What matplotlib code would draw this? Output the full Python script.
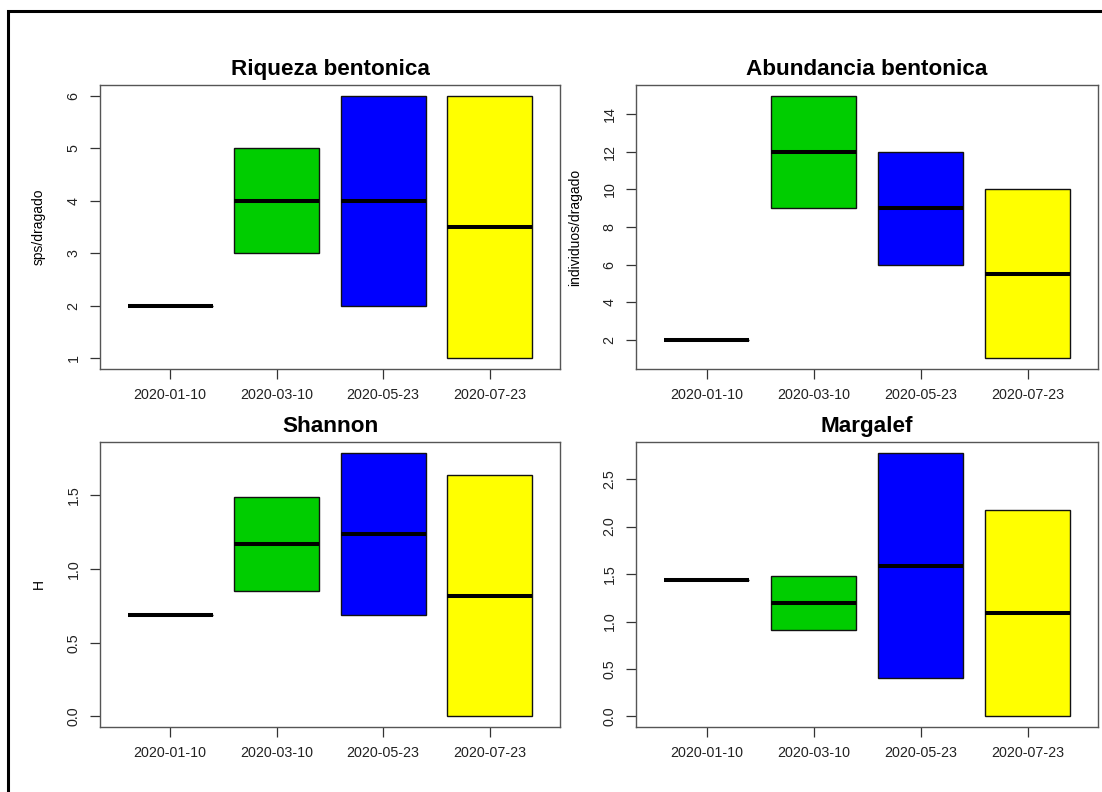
import matplotlib
matplotlib.use("Agg")
import matplotlib.pyplot as plt
from matplotlib.patches import Rectangle

plt.rcParams['font.family'] = ['Liberation Sans', 'DejaVu Sans']

fechas = ["2020-01-10", "2020-03-10", "2020-05-23", "2020-07-23"]
colores = ["#FF0000", "#00CD00", "#0000FF", "#FFFF00"]

# dos dragados por fecha
riqueza = [[2, 2], [3, 5], [2, 6], [1, 6]]
abundancia = [[2, 2], [9, 15], [6, 12], [1, 10]]
shannon = [[0.69, 0.69], [0.85, 1.49], [0.69, 1.79], [0.0, 1.64]]
margalef = [[1.44, 1.44], [0.91, 1.48], [0.40, 2.78], [0.0, 2.17]]

titulos = ["Riqueza bentonica", "Abundancia bentonica", "Shannon", "Margalef"]
etiquetas_y = ["sps/dragado", "individuos/dragado", "H", ""]
ticks_y = [[1, 2, 3, 4, 5, 6], [2, 4, 6, 8, 10, 12, 14],
           [0.0, 0.5, 1.0, 1.5], [0.0, 0.5, 1.0, 1.5, 2.0, 2.5]]
formatos = ["{:g}", "{:g}", "{:.1f}", "{:.1f}"]

posiciones = [
    [0.0907, 0.5341, 0.4175, 0.3586],
    [0.5771, 0.5341, 0.4195, 0.3586],
    [0.0907, 0.0821, 0.4175, 0.3598],
    [0.5771, 0.0821, 0.4195, 0.3598],
]


def estadisticas(valores):
    # con dos datos la caja va del minimo al maximo (como fivenum de R)
    lo, hi = min(valores), max(valores)
    return {"med": (lo + hi) / 2, "q1": lo, "q3": hi,
            "whislo": lo, "whishi": hi, "fliers": []}


def caja(ax, datos, titulo, etiqueta, ticks, fmt):
    stats = [estadisticas(d) for d in datos]
    bp = ax.bxp(stats, positions=range(1, len(datos) + 1), widths=0.8,
                patch_artist=True, showcaps=False,
                boxprops=dict(edgecolor="#111111", linewidth=1.0),
                whiskerprops=dict(linewidth=0),
                medianprops=dict(color="black", linewidth=2.9, solid_capstyle="butt"))
    for patch, c in zip(bp["boxes"], colores):
        patch.set_facecolor(c)

    todos = [v for d in datos for v in d]
    lo, hi = min(todos), max(todos)
    ext = (hi - lo) * 0.04
    ax.set_ylim(lo - ext, hi + ext)
    ax.set_xlim(0.5 - 0.16, len(datos) + 0.5 + 0.16)

    ax.set_xticks(range(1, len(datos) + 1))
    ax.set_xticklabels(fechas)
    ax.set_yticks(ticks)
    ax.set_yticklabels([fmt.format(t) for t in ticks])
    for lab in ax.get_yticklabels():
        lab.set_rotation(90)
        lab.set_va("center")

    ax.tick_params(axis="both", direction="out", length=7, width=0.9,
                   color="#333333", labelsize=10.3, labelcolor="#222222", pad=7)
    for s in ax.spines.values():
        s.set_color("#555555")
        s.set_linewidth(1.0)

    ax.set_title(titulo, fontsize=16.2, fontweight="bold", pad=7)
    if etiqueta:
        ax.set_ylabel(etiqueta, fontsize=10, labelpad=15)


fig = plt.figure(figsize=(11.02, 7.92), dpi=100)

series = [riqueza, abundancia, shannon, margalef]
for i in range(4):
    ax = fig.add_axes(posiciones[i])
    caja(ax, series[i], titulos[i], etiquetas_y[i], ticks_y[i], formatos[i])

# marco exterior
fig.add_artist(Rectangle((8 / 1102, -0.2), 1.5, 1.2 - 11 / 792,
                         transform=fig.transFigure, fill=False,
                         edgecolor="black", linewidth=2.2))

fig.savefig("out.png", dpi=100)
